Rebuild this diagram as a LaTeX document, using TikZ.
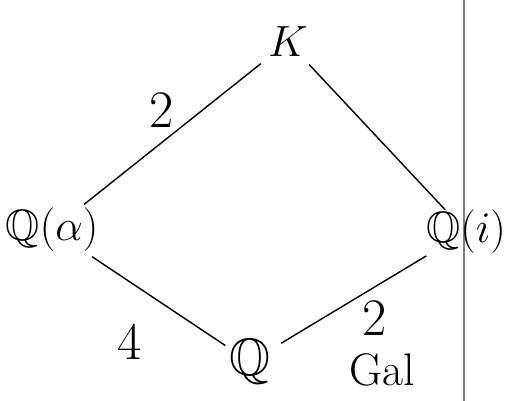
\documentclass[tikz,border=0pt]{standalone}
\usepackage{amssymb}
\begin{document}
\begin{tikzpicture}[x=0.02cm,y=-0.02cm,
  field/.style={font=\fontsize{25}{30}\selectfont, inner sep=1pt},
  ext/.style={line width=0.8pt, black},
  deg/.style={font=\fontsize{30}{34}\selectfont, inner sep=0pt}]
\useasboundingbox (0,0) rectangle (512,401);
\fill[white] (0,0) rectangle (512,401);
\draw[line width=0.6pt, black!50] (464,0) -- (464,401);
\node[field, font=\fontsize{34}{38}\selectfont] (K) at (288,42) {$K$};
\node[field] (Qa) at (52,230) {$\mathbb{Q}(\alpha)$};
\node[field] (Qi) at (466,232) {$\mathbb{Q}(i)$};
\node[field, font=\fontsize{30}{34}\selectfont] (Q) at (250,362) {$\mathbb{Q}$};
\draw[ext, shorten <=0.15cm, shorten >=0.05cm] (K) -- (Qa);
\draw[ext, shorten <=0.15cm, shorten >=-0.05cm] (K) -- (Qi);
\draw[ext, shorten <=0.1cm, shorten >=0.05cm] (Qa) -- (Q);
\draw[ext, shorten <=0.2cm, shorten >=0cm] (Q) -- (Qi);
\node[deg] (d1) at (162,110) {2};
\node[deg] (d2) at (130,342) {4};
\node[deg] (d3) at (375,318) {2};
\node[deg, font=\fontsize{26}{30}\selectfont] (g) at (382,370) {Gal};
\end{tikzpicture}
\end{document}
